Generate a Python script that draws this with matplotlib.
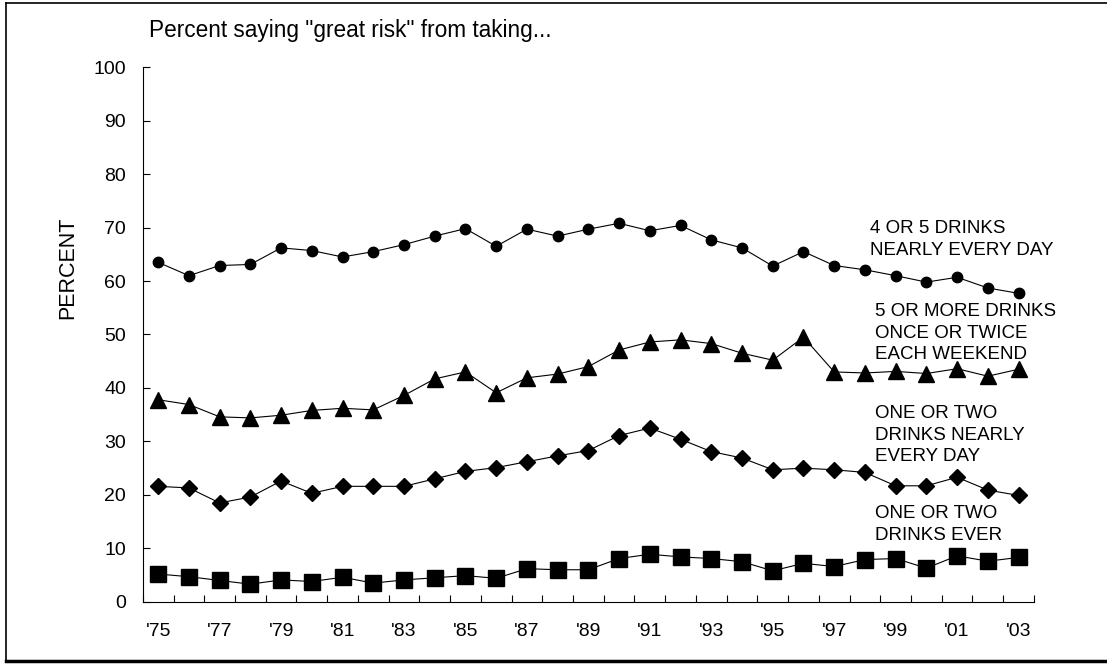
import matplotlib
matplotlib.use('Agg')
import matplotlib.pyplot as plt
from matplotlib.lines import Line2D
import numpy as np

plt.rcParams['font.family'] = ['Liberation Sans', 'DejaVu Sans']

years = ["'75", "'76", "'77", "'78", "'79", "'80", "'81", "'82", "'83", "'84",
         "'85", "'86", "'87", "'88", "'89", "'90", "'91", "'92", "'93", "'94",
         "'95", "'96", "'97", "'98", "'99", "'00", "'01", "'02", "'03"]

four_five_daily = [63.5, 61.0, 62.9, 63.1, 66.2, 65.7, 64.5, 65.5, 66.8, 68.4,
                   69.8, 66.5, 69.7, 68.4, 69.7, 70.8, 69.4, 70.4, 67.7, 66.2,
                   62.8, 65.5, 62.9, 62.1, 61.0, 59.8, 60.7, 58.7, 57.7]
five_weekend = [37.8, 36.9, 34.6, 34.4, 34.9, 35.8, 36.2, 35.9, 38.6, 41.7,
                43.0, 39.1, 41.9, 42.6, 44.0, 47.1, 48.6, 49.0, 48.3, 46.5,
                45.2, 49.5, 43.0, 42.8, 43.1, 42.7, 43.6, 42.2, 43.5]
one_two_daily = [21.6, 21.3, 18.5, 19.6, 22.6, 20.3, 21.6, 21.6, 21.6, 23.0,
                 24.4, 25.1, 26.2, 27.3, 28.3, 31.1, 32.5, 30.4, 28.1, 26.9,
                 24.7, 25.0, 24.7, 24.2, 21.7, 21.7, 23.3, 20.9, 19.9]
one_two_ever = [5.2, 4.7, 4.0, 3.3, 4.1, 3.8, 4.6, 3.5, 4.1, 4.5,
                4.9, 4.4, 6.2, 6.0, 6.0, 8.1, 8.9, 8.4, 8.1, 7.5,
                5.8, 7.2, 6.6, 7.9, 8.1, 6.3, 8.6, 7.6, 8.3]

labels = ['4 OR 5 DRINKS\nNEARLY EVERY DAY',
          '5 OR MORE DRINKS\nONCE OR TWICE\nEACH WEEKEND',
          'ONE OR TWO\nDRINKS NEARLY\nEVERY DAY',
          'ONE OR TWO\nDRINKS EVER']

fig = plt.figure(figsize=(11.07, 6.65), dpi=100)
ax = fig.add_axes([0.129, 0.095, 0.805, 0.804])

x = np.arange(len(years))
lw = 0.8
ax.plot(x, four_five_daily, color='black', lw=lw, marker='o', ms=7.5)
ax.plot(x, five_weekend, color='black', lw=lw, marker='^', ms=11)
ax.plot(x, one_two_daily, color='black', lw=lw, marker='D', ms=8)
ax.plot(x, one_two_ever, color='black', lw=lw, marker='s', ms=11)

ax.set_xlim(-0.5, len(years) - 0.5)
ax.set_ylim(0, 100)
ax.set_yticks(range(0, 101, 10))
ax.set_xticks(x[::2])
ax.set_xticklabels(years[::2])
ax.set_xticks(np.arange(-0.5, len(years), 1), minor=True)
ax.tick_params(axis='x', which='major', length=0, pad=15, labelsize=14)
ax.tick_params(axis='x', which='minor', direction='in', length=5, width=0.8)
ax.tick_params(axis='y', direction='in', length=5, width=0.8, pad=12, labelsize=14)
for s in ['top', 'right']:
    ax.spines[s].set_visible(False)
for s in ['left', 'bottom']:
    ax.spines[s].set_linewidth(0.8)

# y label sits a bit above the axes centre
fig.text(68 / 1107, 1 - 268 / 665, 'PERCENT', fontsize=15.5, rotation=90,
         ha='center', va='center')

# series labels on the right
ax.text(23.17, 71.4, labels[0], fontsize=13.5, va='top', linespacing=1.36)
ax.text(23.33, 55.9, labels[1], fontsize=13.5, va='top', linespacing=1.36)
ax.text(23.33, 36.8, labels[2], fontsize=13.5, va='top', linespacing=1.36)
ax.text(23.33, 18.1, labels[3], fontsize=13.5, va='top', linespacing=1.36)

fig.text(149 / 1107, 1 - 31 / 665, 'Percent saying "great risk" from taking...',
         fontsize=16.3, va='center', ha='left')

# outer frame
fig.add_artist(Line2D([6 / 1107, 6 / 1107], [1 - 3 / 665, 1 - 661 / 665],
                      color='black', lw=1.2, transform=fig.transFigure))
fig.add_artist(Line2D([6 / 1107, 1], [1 - 3 / 665, 1 - 3 / 665],
                      color='black', lw=1.2, transform=fig.transFigure))
fig.add_artist(Line2D([6 / 1107, 1], [1 - 661 / 665, 1 - 661 / 665],
                      color='black', lw=2.5, transform=fig.transFigure))

plt.savefig('out.png', dpi=100)
